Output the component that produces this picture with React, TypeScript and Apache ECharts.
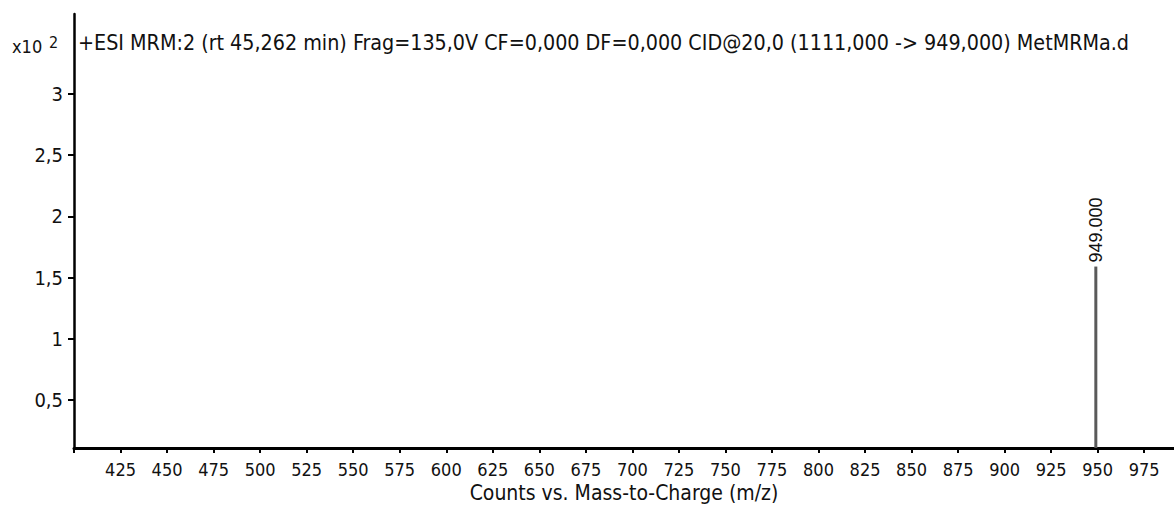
import React, { useEffect, useRef } from 'react';
import * as echarts from 'echarts';

const titleText =
  '+ESI MRM:2 (rt 45,262 min) Frag=135,0V CF=0,000 DF=0,000 CID@20,0 (1111,000 -> 949,000) MetMRMa.d';
const xAxisName = 'Counts vs. Mass-to-Charge (m/z)';
const scaleBase = 'x10';
const scaleExp = '2';

const xMin = 400;
const xMax = 991;
const yMin = 11;
const yMax = 365;

const xTickValues = [400, 425, 450, 475, 500, 525, 550, 575, 600, 625, 650, 675, 700, 725, 750, 775, 800, 825, 850, 875, 900, 925, 950, 975];
const xLabelValues = [425, 450, 475, 500, 525, 550, 575, 600, 625, 650, 675, 700, 725, 750, 775, 800, 825, 850, 875, 900, 925, 950, 975];
const yTickValues = [50, 100, 150, 200, 250, 300];
const yTickLabels = ['0,5', '1', '1,5', '2', '2,5', '3'];

const peakMz = [949];
const peakCounts = [159];
const peakLabels = ['949.000'];

const FONT = '"Liberation Sans Narrow", "DejaVu Sans Condensed", "Arial Narrow", sans-serif';
const TXT = '#111';

export default function App() {
  const ref = useRef<HTMLDivElement>(null);
  useEffect(() => {
    if (!ref.current) return;
    const chart = echarts.init(ref.current, undefined, { renderer: 'svg' });
    chart.setOption({
      animation: false,
      backgroundColor: '#fff',
      grid: { left: 74, right: 0, top: 14, bottom: 65, containLabel: false },
      xAxis: {
        type: 'value',
        min: xMin,
        max: xMax,
        name: xAxisName,
        nameLocation: 'middle',
        nameGap: 33,
        nameTextStyle: { fontFamily: FONT, fontSize: 21, color: TXT },
        axisLine: { show: true, onZero: false, lineStyle: { color: '#000', width: 3 } },
        axisTick: { show: true, length: 5, customValues: xTickValues, lineStyle: { color: '#000', width: 2 } },
        axisLabel: {
          customValues: xLabelValues,
          fontFamily: FONT,
          fontSize: 18,
          color: TXT,
          margin: 12,
        },
        splitLine: { show: false },
      },
      yAxis: {
        type: 'value',
        min: yMin,
        max: yMax,
        axisLine: { show: true, lineStyle: { color: '#000', width: 2.5 } },
        axisTick: { show: true, length: 6, customValues: yTickValues, lineStyle: { color: '#000', width: 2 } },
        axisLabel: {
          customValues: yTickValues,
          formatter: (v: number) => {
            const i = yTickValues.indexOf(v);
            return i >= 0 ? yTickLabels[i] : '';
          },
          fontFamily: FONT,
          fontSize: 20,
          color: TXT,
          margin: 11,
        },
        splitLine: { show: false },
      },
      series: [
        {
          type: 'bar',
          barWidth: 3,
          itemStyle: { color: '#5a5a5a' },
          data: peakMz.map((m, i) => [m, peakCounts[i]]),
          label: {
            show: true,
            position: 'top',
            rotate: 90,
            align: 'left',
            verticalAlign: 'middle',
            distance: 4,
            fontFamily: '"Liberation Sans", Arial, sans-serif',
            fontSize: 18,
            color: TXT,
            formatter: (p: any) => peakLabels[p.dataIndex],
          },
        },
      ],
      graphic: [
        {
          type: 'text',
          x: 78,
          y: 42,
          style: { text: titleText, fontFamily: FONT, fontSize: 21.3, fill: TXT, verticalAlign: 'middle', align: 'left' },
        },
        {
          type: 'text',
          x: 12,
          y: 46,
          style: { text: scaleBase, fontFamily: FONT, fontSize: 18, fill: TXT, verticalAlign: 'middle', align: 'left' },
        },
        {
          type: 'text',
          x: 49,
          y: 42,
          style: { text: scaleExp, fontFamily: FONT, fontSize: 16, fill: TXT, verticalAlign: 'middle', align: 'left' },
        },
      ],
    });
    return () => chart.dispose();
  }, []);
  return <div ref={ref} style={{ position: 'fixed', left: 0, top: 0, width: 1174, height: 513 }} />;
}
